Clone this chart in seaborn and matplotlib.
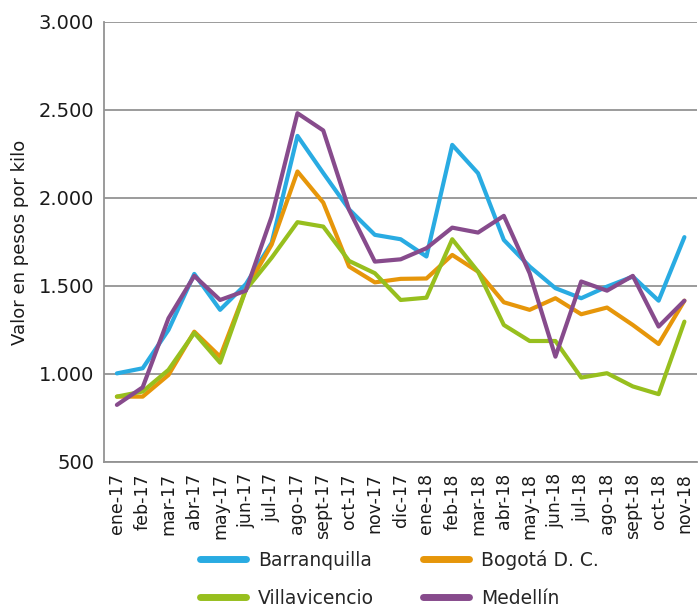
import numpy as np
import pandas as pd
import matplotlib.pyplot as plt
import matplotlib.ticker as mticker
import seaborn as sns

# Monthly values, pesos per kilo
meses = ["ene-17", "feb-17", "mar-17", "abr-17", "may-17", "jun-17", "jul-17", "ago-17",
         "sept-17", "oct-17", "nov-17", "dic-17", "ene-18", "feb-18", "mar-18", "abr-18",
         "may-18", "jun-18", "jul-18", "ago-18", "sept-18", "oct-18", "nov-18"]
barranquilla = [1003, 1032, 1250, 1568, 1364, 1510, 1745, 2352, 2141, 1935, 1790, 1765, 1667,
                2301, 2140, 1761, 1610, 1487, 1430, 1496, 1553, 1416, 1777]
bogota = [871, 871, 994, 1240, 1098, 1480, 1735, 2150, 1973, 1610, 1520, 1540, 1542,
          1676, 1581, 1407, 1364, 1430, 1339, 1377, 1278, 1170, 1416]
villavicencio = [871, 900, 1023, 1233, 1064, 1478, 1660, 1862, 1837, 1642, 1572, 1420, 1433,
                 1765, 1581, 1278, 1187, 1187, 979, 1004, 929, 885, 1297]
medellin = [824, 924, 1316, 1557, 1420, 1473, 1894, 2481, 2383, 1932, 1638, 1651, 1714,
            1831, 1803, 1898, 1572, 1098, 1525, 1473, 1557, 1269, 1416]

ciudades = ["Barranquilla", "Bogotá D. C.", "Villavicencio", "Medellín"]
colores = ["#29abe2", "#e6960a", "#97bf1e", "#874b8c"]

df = pd.DataFrame({
    "x": list(range(len(meses))) * 4,
    "valor": barranquilla + bogota + villavicencio + medellin,
    "ciudad": np.repeat(ciudades, len(meses)),
})

sns.set_style("white")
plt.rcParams["font.family"] = ["DejaVu Sans"]

fig = plt.figure(figsize=(6.98, 6.07), dpi=100)
ax = fig.add_axes([0.149, 0.239, 0.85, 0.725])

sns.lineplot(data=df, x="x", y="valor", hue="ciudad", hue_order=ciudades,
             palette=colores, linewidth=3.0, ax=ax)

ax.set_xlim(-0.5, len(meses) - 0.5)
ax.set_ylim(500, 3000)
ax.yaxis.set_major_locator(mticker.MultipleLocator(500))
ax.yaxis.set_major_formatter(mticker.FuncFormatter(lambda v, p: f"{int(v):,}".replace(",", ".")))
ax.grid(axis="y", color="#939393", linewidth=1.3)
ax.set_axisbelow(True)

ax.set_xticks(range(len(meses)))
ax.set_xticklabels(meses, rotation=90, fontsize=12.5, color="#1a1a1a")
ax.set_xticks(np.arange(-0.5, len(meses)), minor=True)
ax.tick_params(axis="x", which="major", length=0, pad=8)
ax.tick_params(axis="x", which="minor", length=6, color="#939393", width=1.3)
ax.tick_params(axis="y", which="major", length=6, color="#939393", width=1.3,
               labelsize=14, pad=1, labelcolor="#1a1a1a")

for s in ["top", "right"]:
    ax.spines[s].set_visible(False)
for s in ["left", "bottom"]:
    ax.spines[s].set_color("#939393")
    ax.spines[s].set_linewidth(1.3)

ax.set_xlabel("")
ax.set_ylabel("Valor en pesos por kilo", fontsize=13, labelpad=7, color="#1a1a1a")

ax.legend_.remove()
handles, labels = ax.get_legend_handles_labels()
for h in handles:
    h.set_linewidth(5)
    h.set_solid_capstyle("round")
# row-wise order: Barranquilla, Bogotá / Villavicencio, Medellín
orden = [0, 2, 1, 3]
fig.legend([handles[i] for i in orden], [labels[i] for i in orden],
           loc="upper left", bbox_to_anchor=(200 / 698, 1 - 550 / 607), ncol=2,
           frameon=False, fontsize=13.5, handlelength=2.45, columnspacing=2.6,
           handletextpad=0.65, labelspacing=1.0, borderpad=0, borderaxespad=0)

fig.savefig("out.png", dpi=100)
